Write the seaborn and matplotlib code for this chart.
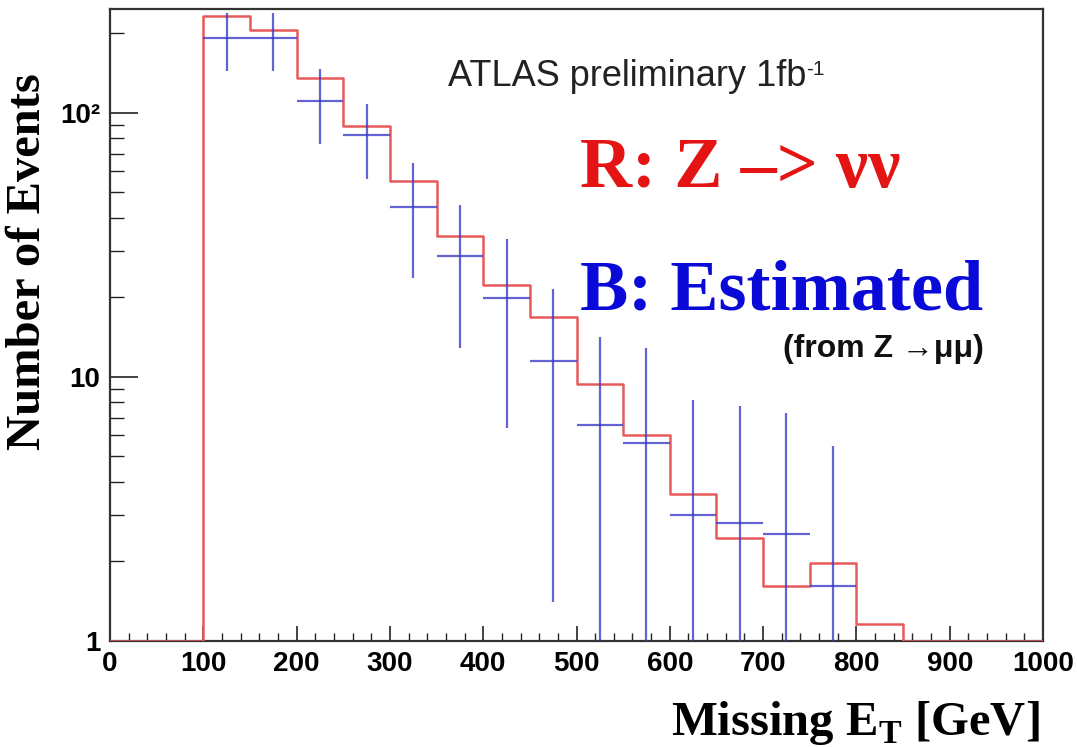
import numpy as np
import pandas as pd
import matplotlib
matplotlib.use("Agg")
import matplotlib.pyplot as plt
import seaborn as sns
from matplotlib.ticker import FixedLocator, FixedFormatter, LogLocator, MultipleLocator, NullFormatter

# histogram binning (GeV)
bin_edges = np.arange(0, 1001, 50)

# R: Z -> nu nu (red step histogram), one value per 50 GeV bin, 0 = empty
red_counts = [0, 0, 232, 206, 135, 89, 55.2, 34.0, 22.2, 16.8, 9.4, 6.0,
              3.59, 2.46, 1.62, 1.97, 1.155, 0, 0, 0]

# B: estimated from Z -> mu mu (blue crosses)
blue_x = [125, 175, 225, 275, 325, 375, 425, 475, 525, 575, 625, 675, 725, 775]
blue_counts = [191, 191, 111, 82, 44, 28.8, 19.9, 11.5, 6.55, 5.63, 2.99, 2.79, 2.55, 1.62]
blue_err = [47, 47, 35, 26, 20.4, 15.9, 13.5, 10.1, 7.6, 7.2, 5.2, 4.95, 4.77, 3.85]

y_tick_vals = [1, 10, 100]
y_tick_text = ["1", "10", "10\u00b2"]

RED = "#e85a5a"
BLUE = "#3c3cc8"

sns.set_style("white")
plt.rcParams["font.family"] = ["Liberation Sans", "DejaVu Sans"]

fig = plt.figure(figsize=(10.77, 7.47), dpi=100)
ax = fig.add_axes([110 / 1077, 1 - 641 / 747, 933 / 1077, 632 / 747])

# empty bins are drawn on the axis floor, as ROOT does on a log scale
y_floor = 1.0
red_df = pd.DataFrame({
    "met": (bin_edges[:-1] + bin_edges[1:]) / 2,
    "w": np.where(np.array(red_counts) > 0, red_counts, y_floor),
})
sns.histplot(data=red_df, x="met", weights="w", binwidth=50, binrange=(0, 1000),
             element="step", fill=False, color=RED, linewidth=1.8, ax=ax, zorder=3)

ax.errorbar(blue_x, blue_counts, xerr=np.diff(bin_edges)[0] / 2, yerr=blue_err,
            fmt="none", ecolor=BLUE, elinewidth=1.6, alpha=0.8, capsize=0, zorder=4)

ax.set_yscale("log", nonpositive="clip")
ax.set_xlim(0, 1000)
ax.set_ylim(1, 247)
ax.set_xlabel("")
ax.set_ylabel("")

ax.xaxis.set_major_locator(MultipleLocator(100))
ax.xaxis.set_minor_locator(MultipleLocator(20))
ax.yaxis.set_major_locator(FixedLocator(y_tick_vals))
ax.yaxis.set_major_formatter(FixedFormatter(y_tick_text))
ax.yaxis.set_minor_locator(LogLocator(base=10, subs=np.arange(2, 10)))
ax.yaxis.set_minor_formatter(NullFormatter())

ax.tick_params(axis="x", which="major", direction="in", length=11, width=1.2,
               labelsize=20, pad=7, bottom=True, top=False, color="#222222",
               labelcolor="black")
ax.tick_params(axis="x", which="minor", direction="in", length=6, width=1.0,
               bottom=True, top=False, color="#222222")
ax.tick_params(axis="y", which="major", direction="in", length=20, width=1.2,
               labelsize=20, pad=7, left=True, right=False, color="#222222",
               labelcolor="black")
ax.tick_params(axis="y", which="minor", direction="in", length=10, width=1.0,
               left=True, right=False, color="#222222")
for lab in ax.get_xticklabels() + ax.get_yticklabels():
    lab.set_fontweight("bold")

for sp in ax.spines.values():
    sp.set_linewidth(1.6)
    sp.set_color("#333333")

# annotations
atlas = ax.text(0.362, 0.878, "ATLAS preliminary 1fb", transform=ax.transAxes,
                fontsize=26, color="#222222", va="baseline", ha="left")
ax.annotate("-1", xy=(1.0, 0.97), xycoords=atlas, fontsize=15, color="#222222",
            va="top", ha="left")
ax.text(0.504, 0.718, "R: Z \u2013> \u03bd\u03bd", transform=ax.transAxes,
        fontsize=52, color="#e41414", fontweight="bold", family="Liberation Serif",
        va="baseline", ha="left")
ax.text(0.504, 0.524, "B: Estimated", transform=ax.transAxes,
        fontsize=52, color="#0a0ad8", fontweight="bold", family="Liberation Serif",
        va="baseline", ha="left")
ax.text(0.721, 0.449, "(from Z \u2192\u03bc\u03bc)", transform=ax.transAxes,
        fontsize=23, color="#111111", fontweight="bold",
        family=["Liberation Sans", "DejaVu Sans"], va="baseline", ha="left")

fig.text(1040 / 1077, 1 - 735 / 747, r"Missing E$_{\mathregular{T}}$ [GeV]",
         fontsize=35, fontweight="bold", family="Liberation Serif",
         ha="right", va="baseline", color="black")
fig.text(28 / 1077, 1 - 262 / 747, "Number of Events", rotation=90,
         fontsize=35, fontweight="bold", family="Liberation Serif",
         ha="center", va="center", color="black")

fig.savefig("out.png", dpi=100, facecolor="white")
